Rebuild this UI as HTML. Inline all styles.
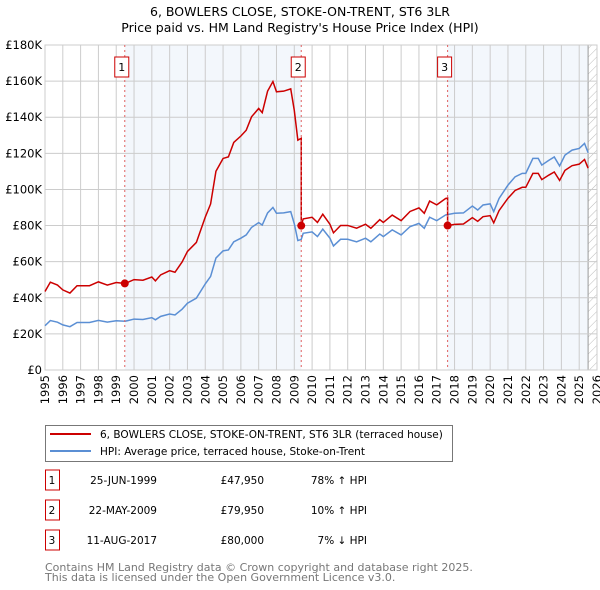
<!DOCTYPE html>
<html><head><meta charset="utf-8"><style>
body{margin:0;background:#fff;width:600px;height:590px;overflow:hidden;font-family:"Liberation Sans","DejaVu Sans",sans-serif}
svg{display:block}
</style></head><body>
<svg id="c" width="600" height="590" xmlns="http://www.w3.org/2000/svg" font-family="DejaVu Sans, Liberation Sans, sans-serif">
<defs><pattern id="hatch" patternUnits="userSpaceOnUse" width="6" height="6" patternTransform="rotate(45)"><line x1="0" y1="0" x2="0" y2="6" stroke="#bbb" stroke-width="1"/></pattern></defs>
<text x="300" y="16" text-anchor="middle" font-size="12.5">6, BOWLERS CLOSE, STOKE-ON-TRENT, ST6 3LR</text>
<text x="300" y="32" text-anchor="middle" font-size="12.5">Price paid vs. HM Land Registry's House Price Index (HPI)</text>
<g id="plot"></g>
<rect x="45.5" y="425.5" width="407" height="36" fill="#fff" stroke="#777"/>
<line x1="50" y1="434" x2="91" y2="434" stroke="#cc0000" stroke-width="2"/>
<text x="100" y="438" font-size="10.5">6, BOWLERS CLOSE, STOKE-ON-TRENT, ST6 3LR (terraced house)</text>
<line x1="50" y1="451" x2="91" y2="451" stroke="#5b8fd4" stroke-width="2"/>
<text x="100" y="455" font-size="10.5">HPI: Average price, terraced house, Stoke-on-Trent</text>
<g id="tbl" font-size="10.5"></g>
<text x="45" y="571" font-size="11" fill="#777">Contains HM Land Registry data © Crown copyright and database right 2025.</text>
<text x="45" y="581" font-size="11" fill="#777">This data is licensed under the Open Government Licence v3.0.</text>
</svg>
<script>
const hpiYears=[1995,1995.3,1995.7,1996,1996.4,1996.8,1997.5,1998,1998.5,1999,1999.5,2000,2000.5,2001,2001.2,2001.5,2002,2002.3,2002.7,2003,2003.5,2004,2004.3,2004.6,2005,2005.3,2005.6,2006,2006.3,2006.6,2007,2007.2,2007.5,2007.8,2008,2008.4,2008.8,2009,2009.2,2009.39,2009.5,2010,2010.3,2010.6,2011,2011.2,2011.6,2012,2012.5,2013,2013.3,2013.8,2014,2014.5,2015,2015.5,2016,2016.3,2016.6,2017,2017.5,2018,2018.5,2019,2019.3,2019.6,2020,2020.2,2020.5,2021,2021.4,2021.8,2022,2022.4,2022.7,2022.9,2023.3,2023.6,2023.9,2024.2,2024.6,2025,2025.3,2025.5];
const hpiValues=[24.5,27.4,26.5,25,24,26.3,26.3,27.5,26.5,27.3,27,28.2,28,29,27.8,29.7,31,30.5,33.7,37,39.8,47.7,51.8,62,66,66.5,71,73,74.8,79,81.6,80.3,87,90,86.8,87,87.7,81,71.7,72.3,75.7,76.5,73.9,78,73,68.7,72.4,72.4,71,73,71,75.3,73.9,77.6,74.8,79.4,81.2,78.5,84.6,82.7,85.9,86.8,87,90.8,88.6,91.4,92,87.7,95,102.4,107,108.9,108.9,117.2,117.2,113.5,116.2,118,113,119,121.8,122.7,125.5,120.3];
const saleYears=[1999.48,2009.39,2017.61];
const salePrices=[47.95,79.95,80.0];
const saleLabels=["1","2","3"];
const saleDates=["25-JUN-1999","22-MAY-2009","11-AUG-2017"];
const salePriceText=["£47,950","£79,950","£80,000"];
const saleHpiText=["78% ↑ HPI","10% ↑ HPI","7% ↓ HPI"];
const yTicks=[0,20,40,60,80,100,120,140,160,180];
const yTickLabels=["£0","£20K","£40K","£60K","£80K","£100K","£120K","£140K","£160K","£180K"];
const xTicks=[1995,1996,1997,1998,1999,2000,2001,2002,2003,2004,2005,2006,2007,2008,2009,2010,2011,2012,2013,2014,2015,2016,2017,2018,2019,2020,2021,2022,2023,2024,2025,2026];

const L=45,R=597,T=45,B=370,X0=1995,X1=2026,YM=180;
const sx=v=>L+(v-X0)/(X1-X0)*(R-L);
const sy=v=>B-v/YM*(B-T);
const NS="http://www.w3.org/2000/svg";
const g=document.getElementById('plot');
function mk(tag,attrs,parent){const e=document.createElementNS(NS,tag);for(const k in attrs)e.setAttribute(k,attrs[k]);(parent||g).appendChild(e);return e;}
function hpiAt(t){for(let i=1;i<hpiYears.length;i++){if(t<=hpiYears[i]){const a=hpiYears[i-1],b=hpiYears[i];return hpiValues[i-1]+(hpiValues[i]-hpiValues[i-1])*(t-a)/(b-a);}}return hpiValues[hpiValues.length-1];}

let r=mk('rect',{x:sx(saleYears[0]),y:T,width:sx(saleYears[1])-sx(saleYears[0]),height:B-T,fill:'#eef3fb',opacity:0.7});


r=mk('rect',{x:sx(saleYears[2]),y:T,width:sx(2025.5)-sx(saleYears[2]),height:B-T,fill:'#eef3fb',opacity:0.7});


r=mk('rect',{x:sx(2025.5),y:T,width:R-sx(2025.5),height:B-T,fill:'url(#hatch)'});


mk('line',{x1:sx(2025.5),y1:T,x2:sx(2025.5),y2:B,stroke:'#999'});

xTicks.forEach(t=>{mk('line',{x1:sx(t),y1:T,x2:sx(t),y2:B,stroke:'#ccc'});
 const tx=mk('text',{x:0,y:0,'font-size':11.5,'text-anchor':'end',transform:`translate(${sx(t)+4},${B+5}) rotate(-90)`});tx.textContent=t;
 
 });
yTicks.forEach((t,i)=>{mk('line',{x1:L,y1:sy(t),x2:R,y2:sy(t),stroke:'#ccc'});
 const tx=mk('text',{x:L-3,y:sy(t)+4,'font-size':11.5,'text-anchor':'end'});tx.textContent=yTickLabels[i];
 
 });
mk('rect',{x:L,y:T,width:R-L,height:B-T,fill:'none',stroke:'#ccc'});

let p=mk('polyline',{points:hpiYears.map((t,i)=>sx(t)+','+sy(hpiValues[i])).join(' '),fill:'none',stroke:'#5b8fd4','stroke-width':1.5});



const pts=[];
hpiYears.forEach((t,i)=>{let k=0;for(let j=0;j<saleYears.length;j++)if(t>=saleYears[j])k=j;
 if(k>0&&i>0&&hpiYears[i-1]<saleYears[k]){const prevK=k-1;const ts=saleYears[k];pts.push([ts,hpiAt(ts)*salePrices[prevK]/hpiAt(saleYears[prevK])]);pts.push([ts,salePrices[k]]);}
 pts.push([t,hpiValues[i]*salePrices[k]/hpiAt(saleYears[k])]);});
p=mk('polyline',{points:pts.map(q=>sx(q[0])+','+sy(q[1])).join(' '),fill:'none',stroke:'#cc0000','stroke-width':1.5});



saleYears.forEach((t,i)=>{const x=sx(t);
 mk('line',{x1:x,y1:T,x2:x,y2:B,stroke:'#e06060','stroke-dasharray':'2,3'});
 const d=mk('circle',{cx:x,cy:sy(salePrices[i]),r:4,fill:'#cc0000'});
 
 
 const b=mk('rect',{x:x-10,y:57,width:14,height:20,fill:'#fff',stroke:'#cc0000'});
 
 
 const tx=mk('text',{x:x-3,y:71,'font-size':11,'text-anchor':'middle'});tx.textContent=saleLabels[i];
 
 
 const tb=document.getElementById('tbl');const y=483+i*30;
 const bx=mk('rect',{x:45.5,y:y-13,width:14,height:20,fill:'#fff',stroke:'#cc0000'},tb);
 
 
 const c=[[saleLabels[i],52,'middle'],[saleDates[i],157,'end'],[salePriceText[i],264,'end'],[saleHpiText[i],367,'end']];
 c.forEach(cc=>{const e=mk('text',{x:cc[1],y:y+1,'text-anchor':cc[2]},tb);e.textContent=cc[0];
  
  });
});
</script>
</body></html>
